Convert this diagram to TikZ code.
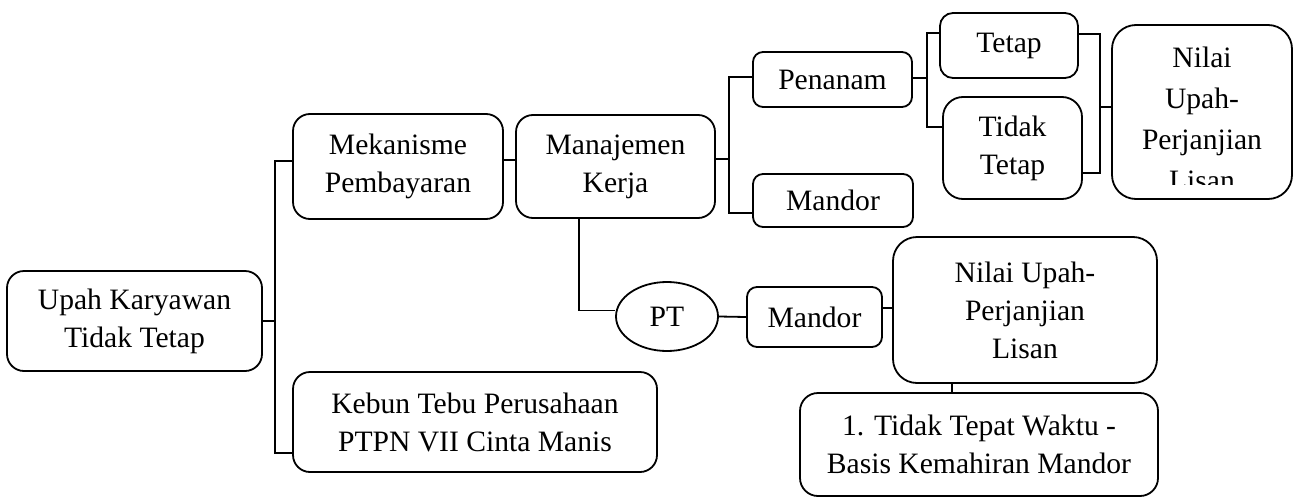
\documentclass[tikz,border=0pt]{standalone}
\usepackage{fontspec}
\setmainfont{Liberation Serif}
\usepackage{tikz}
\usetikzlibrary{shapes, positioning, calc}

\begin{document}
\begin{tikzpicture}[
            x=0.5pt, y=-0.5pt,
            font=\fontsize{14.8}{19}\selectfont,
            box/.style={rectangle, draw, line width=0.9pt, rounded corners=8.5pt, align=center, inner sep=0pt},
            smallbox/.style={box, rounded corners=5pt},
            bigbox/.style={box, rounded corners=12pt},
            oval/.style={ellipse, draw, line width=0.9pt, inner sep=0pt},
            link/.style={line width=0.9pt}
        ]
            \useasboundingbox (0,0) rectangle (1295,498);

            \node[box, minimum width=127.5pt, minimum height=50pt] (upah) at (134.5,321) {Upah Karyawan\\Tidak Tetap};
            \node[box, minimum width=105pt, minimum height=52.5pt] (mek) at (398,166.5) {Mekanisme\\Pembayaran};
            \node[box, minimum width=182pt, minimum height=50pt] (kebun) at (475,422) {Kebun Tebu Perusahaan\\PTPN VII Cinta Manis};
            \node[box, minimum width=99.5pt, minimum height=51.5pt] (manaj) at (615.5,166.5) {Manajemen\\Kerja};
            \node[smallbox, minimum width=79.5pt, minimum height=27.5pt] (penanam) at (832.5,79.5) {Penanam};
            \node[smallbox, minimum width=80pt, minimum height=26.5pt] (mandorA) at (833,200.5) {Mandor};
            \node[smallbox, rounded corners=6.5pt, minimum width=69pt, minimum height=32.5pt] (tetap) at (1009,45.5) {Tetap};
            \node[box, rounded corners=10pt, minimum width=69.5pt, minimum height=51pt] (tidak) at (1012.5,148) {Tidak\\Tetap};
            \node[bigbox, minimum width=90pt, minimum height=87pt] (nilaiA) at (1202,112) {};
            \node[oval, minimum width=51pt, minimum height=34.5pt] (pt) at (667,316.5) {PT};
            \node[smallbox, minimum width=67.5pt, minimum height=30pt] (mandorB) at (814.5,317) {Mandor};
            \node[bigbox, minimum width=132pt, minimum height=73pt] (nilaiB) at (1025,310) {Nilai Upah-\\Perjanjian\\Lisan};
            \node[box, rounded corners=9pt, minimum width=179pt, minimum height=51.5pt] (basis) at (979,444.5) {1. Tidak Tepat Waktu -\\Basis Kemahiran Mandor};

            % text of the right box runs past its lower edge
            \begin{scope}
                \clip (1114,27) rectangle (1290,184);
                \node[align=center, anchor=north, inner sep=0pt, font=\fontsize{14.8}{20.5}\selectfont] (nilaiAtxt) at (1202,47) {Nilai\\Upah-\\Perjanjian\\Lisan};
            \end{scope}

            \coordinate (j1) at (275,321);
            \coordinate (j2) at (729,159);
            \coordinate (j3) at (927,78);
            \coordinate (j4) at (1100,107);

            \draw[link] (upah.east) -- (j1);
            \draw[link] ([yshift=2.75pt]mek.west) -| (j1) |- ([yshift=-15.5pt]kebun.west);
            \draw[link] ([yshift=3.25pt]mek.east) -- ([yshift=3.25pt]manaj.west);
            \draw[link] ([yshift=3.75pt]manaj.east) -- (j2);
            \draw[link] ([yshift=1.25pt]penanam.west) -| (j2) |- ([yshift=-6.25pt]mandorA.west);
            \draw[link] ([yshift=0.75pt]penanam.east) -- (j3);
            \draw[link] ([yshift=6.25pt]tetap.west) -| (j3) |- ([yshift=10.5pt]tidak.west);
            \draw[link] ([yshift=5.75pt]tetap.east) -| (j4) |- ([yshift=-12.5pt]tidak.east);
            \draw[link] (j4) -- ([yshift=2.5pt]nilaiA.west);
            \draw[link] ([xshift=-18.25pt]manaj.south) |- ([yshift=3pt]pt.west);
            \draw[link] (pt.east) -- (mandorB.west);
            \draw[link] ([yshift=4.5pt]mandorB.east) -- ([yshift=1pt]nilaiB.west);
            \draw[link] ([xshift=-36.5pt]nilaiB.south) -- ([xshift=-13.5pt]basis.north);
        \end{tikzpicture}
\end{document}
